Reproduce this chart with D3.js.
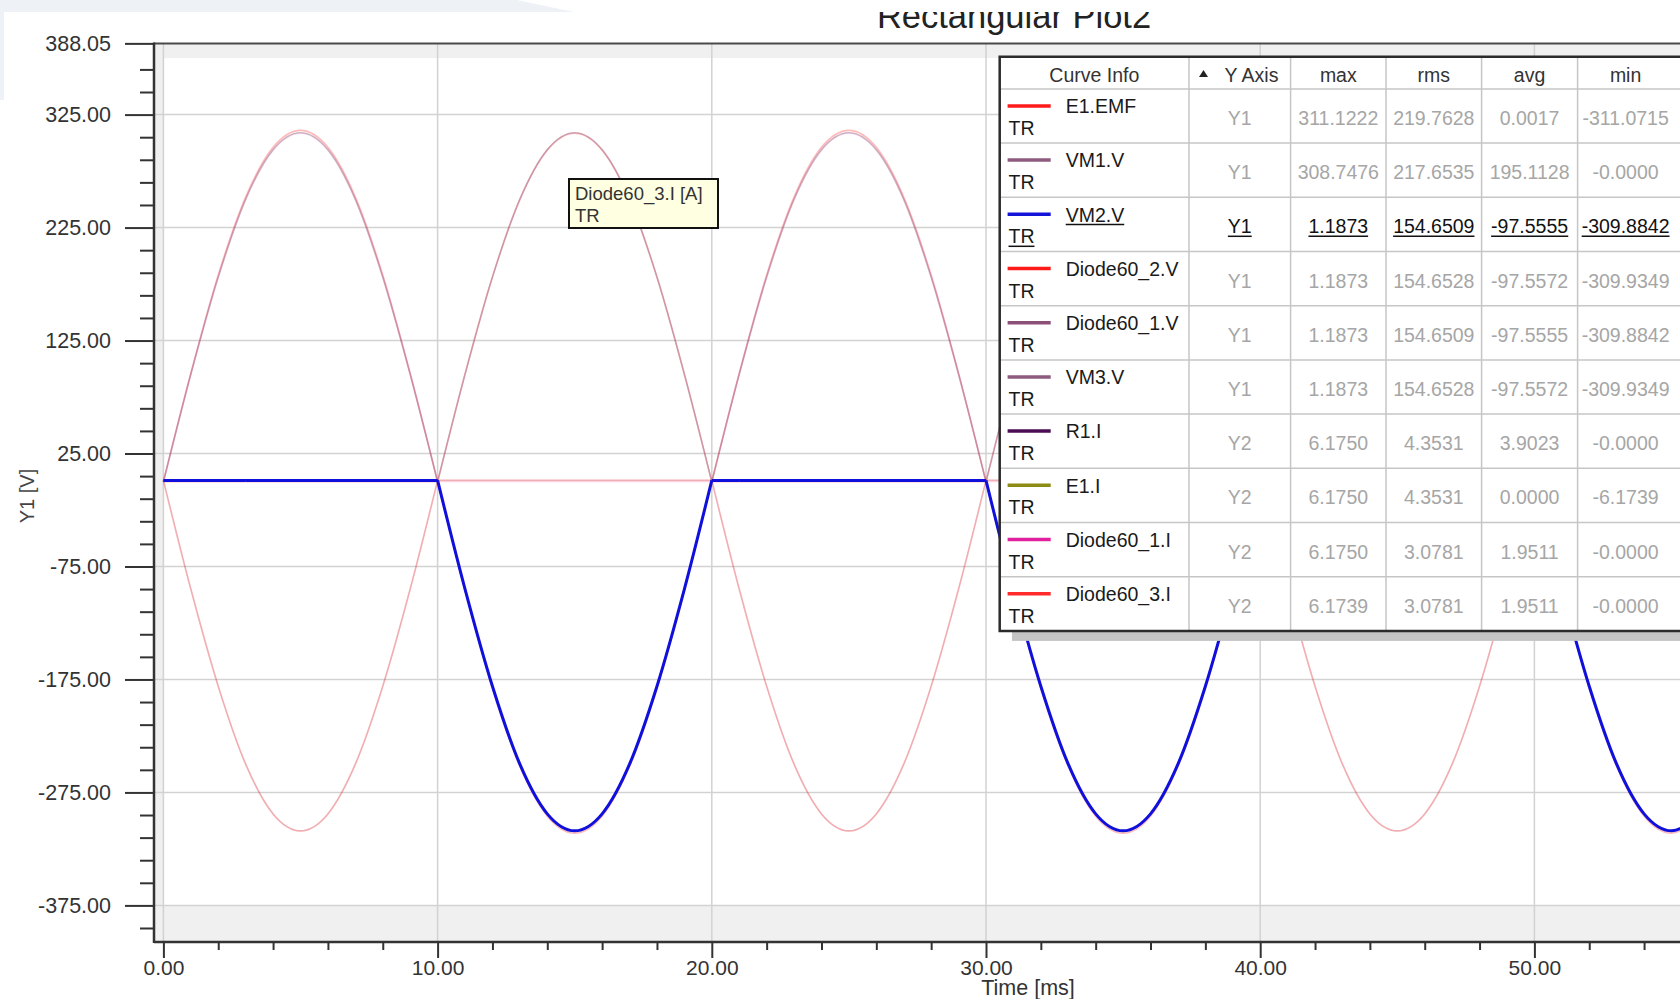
<!DOCTYPE html>
<html>
<head>
<meta charset="utf-8">
<script src="https://cdn.jsdelivr.net/npm/d3@7"></script>
<style>
html, body { margin: 0; padding: 0; background: #fff; overflow: hidden; }
svg { display: block; font-family: "Liberation Sans", Arial, sans-serif; }
</style>
</head>
<body>
<script>
var width = 1680, height = 999;

// samples, one per ms
var timeMs = [0,1,2,3,4,5,6,7,8,9,10,11,12,13,14,15,16,17,18,19,20,21,22,23,24,25,26,27,28,29,
  30,31,32,33,34,35,36,37,38,39,40,41,42,43,44,45,46,47,48,49,50,51,52,53,54,55,56];
var e1Emf = [0,96,183,252,296,311,296,252,183,96, 0,-96,-183,-252,-296,-311,-296,-252,-183,-96,
  0,96,183,252,296,311,296,252,183,96, 0,-96,-183,-252,-296,-311,-296,-252,-183,-96,
  0,96,183,252,296,311,296,252,183,96, 0,-96,-183,-252,-296,-311,-296];
var vm1V = [0,95,181,250,294,309,294,250,181,95, 0,95,181,250,294,309,294,250,181,95,
  0,95,181,250,294,309,294,250,181,95, 0,95,181,250,294,309,294,250,181,95,
  0,95,181,250,294,309,294,250,181,95, 0,95,181,250,294,309,294];
var vm2V = [1.2,1.2,1.2,1.2,1.2,1.2,1.2,1.2,1.2,1.2, 1.2,-95,-181,-250,-294,-309,-294,-250,-181,-95,
  1.2,1.2,1.2,1.2,1.2,1.2,1.2,1.2,1.2,1.2, 1.2,-95,-181,-250,-294,-309,-294,-250,-181,-95,
  1.2,1.2,1.2,1.2,1.2,1.2,1.2,1.2,1.2,1.2, 1.2,-95,-181,-250,-294,-309,-294];
var diode2V = [1.2,-95,-181,-250,-294,-309,-294,-250,-181,-95, 1.2,1.2,1.2,1.2,1.2,1.2,1.2,1.2,1.2,1.2,
  1.2,-95,-181,-250,-294,-309,-294,-250,-181,-95, 1.2,1.2,1.2,1.2,1.2,1.2,1.2,1.2,1.2,1.2,
  1.2,-95,-181,-250,-294,-309,-294,-250,-181,-95, 1.2,1.2,1.2,1.2,1.2,1.2,1.2];
// currents on the Y2 axis (A)
var diode1I = [0,1.91,3.63,5.0,5.87,6.17,5.87,5.0,3.63,1.91, 0,0,0,0,0,0,0,0,0,0,
  0,1.91,3.63,5.0,5.87,6.17,5.87,5.0,3.63,1.91, 0,0,0,0,0,0,0,0,0,0,
  0,1.91,3.63,5.0,5.87,6.17,5.87,5.0,3.63,1.91, 0,0,0,0,0,0,0];
var diode3I = [0,0,0,0,0,0,0,0,0,0, 0,1.91,3.63,5.0,5.87,6.17,5.87,5.0,3.63,1.91,
  0,0,0,0,0,0,0,0,0,0, 0,1.91,3.63,5.0,5.87,6.17,5.87,5.0,3.63,1.91,
  0,0,0,0,0,0,0,0,0,0, 0,1.91,3.63,5.0,5.87,6.17,5.87];

// axis ticks
var yMajor = [388.05, 325, 225, 125, 25, -75, -175, -275, -375];
var yMinor = [365,345,305,285,265,245,205,185,165,145,105,85,65,45,5,-15,-35,-55,-95,-115,-135,-155,
  -195,-215,-235,-255,-295,-315,-335,-355,-395];
var xMajor = [0, 10, 20, 30, 40, 50];
var xMinor = [2,4,6,8,12,14,16,18,22,24,26,28,32,34,36,38,42,44,46,48,52,54];

// curve info table
var curveNames = ["E1.EMF","VM1.V","VM2.V","Diode60_2.V","Diode60_1.V","VM3.V","R1.I","E1.I","Diode60_1.I","Diode60_3.I"];
var curveAxis = ["Y1","Y1","Y1","Y1","Y1","Y1","Y2","Y2","Y2","Y2"];
var curveColors = ["#ff1a1a","#8e5a7e","#1414d8","#ff1a1a","#8b4f78","#8e5a7e","#4a0c52","#8c8c14","#e0209c","#ff2a2a"];
var maxVals = [311.1222, 308.7476, 1.1873, 1.1873, 1.1873, 1.1873, 6.1750, 6.1750, 6.1750, 6.1739];
var rmsVals = [219.7628, 217.6535, 154.6509, 154.6528, 154.6509, 154.6528, 4.3531, 4.3531, 3.0781, 3.0781];
var avgVals = [0.0017, 195.1128, -97.5555, -97.5572, -97.5555, -97.5572, 3.9023, 0.0000, 1.9511, 1.9511];
var minVals = [-311.0715, -0.00001, -309.8842, -309.9349, -309.8842, -309.9349, -0.00001, -6.1739, -0.00001, -0.00001];
var selectedRow = 2;

var svg = d3.select("body").append("svg")
    .attr("width", width)
    .attr("height", height);

var x = d3.scaleLinear().domain([0, 50]).range([163.4, 1534.4]);
var y = d3.scaleLinear().domain([-375, 325]).range([905.4, 114.6]);
// Y2 axis is off screen; it lines up 6.17 A with the voltage peaks
var y2 = d3.scaleLinear().domain([-7.5, 6.5]).range([905.4, 114.6]);
var plotL = 154, plotT = 43.4, plotB = 942, plotR = 1700;

// plot background and the shaded out-of-range bands
svg.append("rect").attr("x", plotL).attr("y", plotT).attr("width", plotR - plotL).attr("height", plotB - plotT).attr("fill", "#fff");
svg.append("rect").attr("x", plotL).attr("y", plotT).attr("width", plotR - plotL).attr("height", y(375) - plotT).attr("fill", "#f0f0f0");
svg.append("rect").attr("x", plotL).attr("y", y(-375)).attr("width", plotR - plotL).attr("height", plotB - y(-375)).attr("fill", "#f0f0f0");
svg.append("rect").attr("x", plotL).attr("y", plotT).attr("width", x(0) - plotL).attr("height", plotB - plotT).attr("fill", "#f0f0f0");

// grid
var grid = svg.append("g").attr("stroke", "#d2d2d2").attr("stroke-width", 1.5);
grid.selectAll(".gx").data(xMajor.concat([60])).enter().append("line")
    .attr("x1", function (d) { return x(d); }).attr("x2", function (d) { return x(d); })
    .attr("y1", plotT).attr("y2", plotB);
grid.selectAll(".gy").data(yMajor.slice(1)).enter().append("line")
    .attr("x1", plotL).attr("x2", plotR)
    .attr("y1", function (d) { return y(d); }).attr("y2", function (d) { return y(d); });

// curves
svg.append("clipPath").attr("id", "plotclip").append("rect")
    .attr("x", plotL + 1).attr("y", plotT + 1).attr("width", plotR - plotL).attr("height", plotB - plotT - 2);

var plotSeries = [
    { values: e1Emf, scale: y, color: "#ff1a1a", opacity: 0.3, w: 1.6 },
    { values: diode2V, scale: y, color: "#ff1a1a", opacity: 0.3, w: 1.6 },
    { values: diode2V, scale: y, color: "#8e5a7e", opacity: 0.12, w: 1.6 },
    { values: diode3I, scale: y2, color: "#ff2a2a", opacity: 0.3, w: 1.6 },
    { values: diode1I, scale: y2, color: "#e0209c", opacity: 0.1, w: 1.6 },
    { values: vm1V, scale: y, color: "#8e5a7e", opacity: 0.42, w: 1.6 },
    { values: vm2V, scale: y, color: "#8b4f78", opacity: 0.3, w: 1.6 },
    { values: vm2V, scale: y, color: "#1010dc", opacity: 1, w: 3 }
];

// break each curve where it touches zero so the corners stay sharp
function splitAtZero(vals, lim) {
    var segs = [], cur = [];
    vals.forEach(function (v, i) {
        cur.push({ t: timeMs[i], v: v });
        if (Math.abs(v) < lim && cur.length > 1) {
            segs.push(cur);
            cur = [{ t: timeMs[i], v: v }];
        }
    });
    if (cur.length > 1) segs.push(cur);
    return segs;
}

var curves = svg.append("g").attr("clip-path", "url(#plotclip)");
plotSeries.forEach(function (s) {
    var line = d3.line()
        .x(function (d) { return x(d.t); })
        .y(function (d) { return s.scale(d.v); })
        .curve(d3.curveMonotoneX);
    var segs = splitAtZero(s.values, s.scale === y ? 2 : 0.04);
    var d = segs.map(function (seg) { return line(seg); }).join("");
    curves.append("path")
        .attr("d", d)
        .attr("fill", "none")
        .attr("stroke", s.color)
        .attr("stroke-opacity", s.opacity)
        .attr("stroke-width", s.w)
        .attr("stroke-linejoin", "round");
});

// frame
svg.append("line").attr("x1", plotL).attr("x2", plotR).attr("y1", plotT).attr("y2", plotT)
    .attr("stroke", "#4a4a4a").attr("stroke-width", 2);

// y axis
var yAxisMajor = svg.append("g").attr("transform", "translate(" + plotL + ",0)")
    .call(d3.axisLeft(y).tickValues(yMajor).tickSize(29).tickSizeOuter(0).tickPadding(14)
        .tickFormat(function (d) { return d.toFixed(2); }));
var yAxisMinor = svg.append("g").attr("transform", "translate(" + plotL + ",0)")
    .call(d3.axisLeft(y).tickValues(yMinor).tickSize(14).tickSizeOuter(0).tickFormat(""));
[yAxisMajor, yAxisMinor].forEach(function (g) {
    g.select(".domain").remove();
    g.selectAll(".tick line").attr("stroke", "#333").attr("stroke-width", 2);
});
yAxisMajor.selectAll("text")
    .attr("fill", "#333")
    .style("font-size", "21.5px")
    .style("font-family", "'Liberation Sans', Arial, sans-serif");
svg.append("line").attr("x1", plotL).attr("x2", plotL).attr("y1", plotT - 1).attr("y2", plotB + 1)
    .attr("stroke", "#333").attr("stroke-width", 2.5);

// x axis
var xAxisMajor = svg.append("g").attr("transform", "translate(0," + plotB + ")")
    .call(d3.axisBottom(x).tickValues(xMajor).tickSize(16).tickSizeOuter(0).tickPadding(2)
        .tickFormat(function (d) { return d.toFixed(2); }));
var xAxisMinor = svg.append("g").attr("transform", "translate(0," + plotB + ")")
    .call(d3.axisBottom(x).tickValues(xMinor).tickSize(8).tickSizeOuter(0).tickFormat(""));
[xAxisMajor, xAxisMinor].forEach(function (g) {
    g.select(".domain").remove();
    g.selectAll(".tick line").attr("stroke", "#333").attr("stroke-width", 2);
});
xAxisMajor.selectAll("text")
    .attr("fill", "#333")
    .style("font-size", "21px")
    .style("font-family", "'Liberation Sans', Arial, sans-serif");
svg.append("line").attr("x1", plotL).attr("x2", plotR).attr("y1", plotB).attr("y2", plotB)
    .attr("stroke", "#333").attr("stroke-width", 2.5);

// axis titles
svg.append("text")
    .attr("transform", "translate(34,496) rotate(-90)")
    .attr("text-anchor", "middle")
    .attr("fill", "#444")
    .style("font-size", "20px")
    .text("Y1 [V]");
svg.append("text")
    .attr("x", 1028).attr("y", 995)
    .attr("text-anchor", "middle")
    .attr("fill", "#333")
    .style("font-size", "21.5px")
    .text("Time [ms]");

// title, its top is cut off in the original
svg.append("clipPath").attr("id", "titleclip").append("rect")
    .attr("x", 0).attr("y", 12).attr("width", width).attr("height", 30);
svg.append("text")
    .attr("clip-path", "url(#titleclip)")
    .attr("x", 1014).attr("y", 28.3)
    .attr("text-anchor", "middle")
    .attr("fill", "#222")
    .style("font-size", "34.5px")
    .text("Rectangular Plot2");

// window corner
svg.append("path")
    .attr("d", "M0,0 H517 L574,12 H4 V100 H0 Z")
    .attr("fill", "#eef2f7");

// curve info table
var colX = [999.7, 1189, 1290.6, 1386, 1481.6, 1577.6, 1690];
var headT = 56.7, headB = 88.9, rowH = 54.2;
var tableB = headB + rowH * curveNames.length;
var table = svg.append("g").style("font-size", "19.5px");

table.append("rect").attr("x", 1012).attr("y", tableB).attr("width", 700).attr("height", 10).attr("fill", "#c4c4c4");
table.append("rect").attr("x", colX[0]).attr("y", headT).attr("width", colX[6] - colX[0]).attr("height", tableB - headT).attr("fill", "#fff");

var tgrid = table.append("g").attr("stroke", "#c6c6c6").attr("stroke-width", 1.5);
tgrid.selectAll(".cv").data(colX.slice(1, 6)).enter().append("line")
    .attr("x1", function (d) { return d; }).attr("x2", function (d) { return d; })
    .attr("y1", headT).attr("y2", tableB);
tgrid.selectAll(".rh").data(d3.range(curveNames.length)).enter().append("line")
    .attr("x1", colX[0]).attr("x2", colX[6])
    .attr("y1", function (i) { return headB + rowH * i; })
    .attr("y2", function (i) { return headB + rowH * i; });

table.append("path")
    .attr("d", "M" + colX[6] + "," + headT + " H" + colX[0] + " V" + tableB + " H" + colX[6])
    .attr("fill", "none").attr("stroke", "#2b2b2b").attr("stroke-width", 2.5);

// header
var headers = ["Curve Info", "Y Axis", "max", "rms", "avg", "min"];
headers.forEach(function (h, i) {
    var cx = i === 1 ? 1251.5 : (i === 5 ? 1625.6 : (colX[i] + colX[i + 1]) / 2);
    table.append("text")
        .attr("x", cx).attr("y", 81.5)
        .attr("text-anchor", "middle")
        .attr("fill", "#333")
        .text(h);
});
table.append("path").attr("d", "M1199,77 L1203.5,70 L1208,77 Z").attr("fill", "#222");

// rows
var fmt = function (v) { return v.toFixed(4); };
curveNames.forEach(function (name, i) {
    var top = headB + rowH * i;
    var sel = i === selectedRow;
    var row = table.append("g");
    row.append("line")
        .attr("x1", 1007.6).attr("x2", 1050.7)
        .attr("y1", top + 17).attr("y2", top + 17)
        .attr("stroke", curveColors[i]).attr("stroke-width", 3.5);
    var texts = [];
    texts.push(row.append("text").attr("x", 1065.7).attr("y", top + 24.3).attr("fill", "#1a1a1a").text(name));
    texts.push(row.append("text").attr("x", 1008.5).attr("y", top + 46).attr("fill", "#1a1a1a").text("TR"));
    var cells = [curveAxis[i], fmt(maxVals[i]), fmt(rmsVals[i]), fmt(avgVals[i]), fmt(minVals[i])];
    cells.forEach(function (c, j) {
        var cx = j === 4 ? 1625.6 : (colX[j + 1] + colX[j + 2]) / 2;
        texts.push(row.append("text")
            .attr("x", cx).attr("y", top + 36)
            .attr("text-anchor", "middle")
            .attr("fill", sel ? "#111" : "#a6a6a6")
            .text(c));
    });
    if (sel) {
        texts.forEach(function (t) {
            var b = t.node().getBBox();
            row.append("line")
                .attr("x1", b.x).attr("x2", b.x + b.width)
                .attr("y1", +t.attr("y") + 3).attr("y2", +t.attr("y") + 3)
                .attr("stroke", "#111").attr("stroke-width", 1.5);
        });
    }
});

// tooltip
var tip = svg.append("g").style("font-size", "18.5px");
tip.append("rect").attr("x", 569).attr("y", 179).attr("width", 149).attr("height", 49)
    .attr("fill", "#ffffe1").attr("stroke", "#111").attr("stroke-width", 2);
tip.append("text").attr("x", 575).attr("y", 199.5).attr("fill", "#333").text("Diode60_3.I [A]");
tip.append("text").attr("x", 575).attr("y", 221.5).attr("fill", "#333").text("TR");
</script>
</body>
</html>
